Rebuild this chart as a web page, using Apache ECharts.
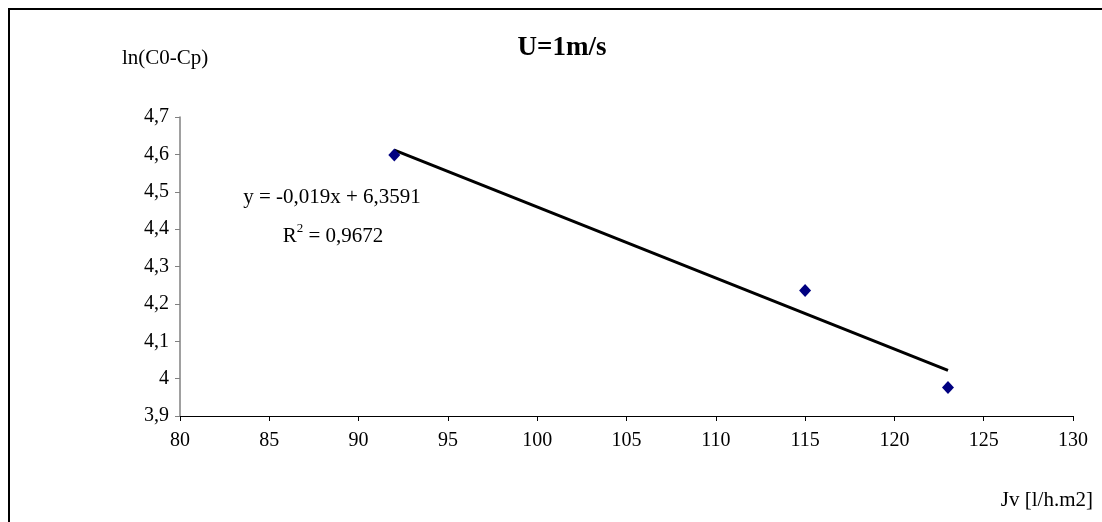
<!DOCTYPE html>
<html>
<head>
<meta charset="utf-8">
<script src="https://cdn.jsdelivr.net/npm/echarts@6/dist/echarts.min.js"></script>
<style>
html,body{margin:0;padding:0;background:#fff;}
#chart{width:1102px;height:522px;}
</style>
</head>
<body>
<div id="chart"></div>
<script>
// Data
const jv = [92, 115, 123];
const lnC = [4.598, 4.236, 3.976];
const trendX = [92, 123];
const trendY = [4.6111, 4.0221];
const titleText = 'U=1m/s';
const yName = 'ln(C0-Cp)';
const xName = 'Jv [l/h.m2]';
const eqText = 'y = -0,019x + 6,3591';
const r2Value = '0,9672';

const font = 'Liberation Serif, Times New Roman, serif';
const chart = echarts.init(document.getElementById('chart'));
const fmt = v => String(+v.toFixed(2)).replace('.', ',');

chart.setOption({
  animation: false,
  backgroundColor: '#fff',
  title: {
    text: titleText, left: 557, top: 30, textAlign: 'center',
    textStyle: { fontFamily: font, fontSize: 27, fontWeight: 'bold', color: '#000' }
  },
  grid: { left: 180, right: 29, top: 117, bottom: 106 },
  xAxis: {
    type: 'value', min: 80, max: 130, interval: 5,
    axisLine: { lineStyle: { color: '#000', width: 1 } },
    axisTick: { show: true, length: 5, lineStyle: { color: '#000' } },
    axisLabel: { color: '#000', fontFamily: font, fontSize: 20, margin: 15, formatter: fmt },
    splitLine: { show: false }
  },
  yAxis: {
    type: 'value', min: 3.9, max: 4.7, interval: 0.1,
    axisLine: { show: true, lineStyle: { color: '#808080', width: 1.5 } },
    axisTick: { show: true, length: 5, lineStyle: { color: '#808080' } },
    axisLabel: { color: '#000', fontFamily: font, fontSize: 20, margin: 11, formatter: fmt },
    splitLine: { show: false }
  },
  series: [
    {
      type: 'line', data: trendX.map((x, i) => [x, trendY[i]]),
      showSymbol: false, symbol: 'none',
      lineStyle: { color: '#000', width: 3 }, z: 2
    },
    {
      type: 'scatter', data: jv.map((x, i) => [x, lnC[i]]),
      symbol: 'diamond', symbolSize: [12, 13],
      itemStyle: { color: '#000080', opacity: 1 }, z: 3
    }
  ],
  graphic: [
    { type: 'rect', shape: { x: 9, y: 9, width: 1100, height: 520 },
      style: { fill: null, stroke: '#000', lineWidth: 2 }, silent: true },
    { type: 'text', x: 122, y: 58,
      style: { text: yName, fontFamily: font, fontSize: 21, fill: '#000', verticalAlign: 'middle' } },
    { type: 'text', x: 1093, y: 500,
      style: { text: xName, fontFamily: font, fontSize: 21, fill: '#000', align: 'right', verticalAlign: 'middle' } },
    { type: 'text', x: 332, y: 197,
      style: { text: eqText, fontFamily: font, fontSize: 21, fill: '#000', align: 'center', verticalAlign: 'middle' } },
    { type: 'text', x: 333, y: 236,
      style: {
        text: '{a|R}{s|2}{a| = ' + r2Value + '}',
        align: 'center', verticalAlign: 'middle',
        rich: {
          a: { fontFamily: font, fontSize: 21, color: '#000' },
          s: { fontFamily: font, fontSize: 13, color: '#000', verticalAlign: 'top', padding: [0, 0, 14, 0] }
        }
      } }
  ]
});
</script>
</body>
</html>
